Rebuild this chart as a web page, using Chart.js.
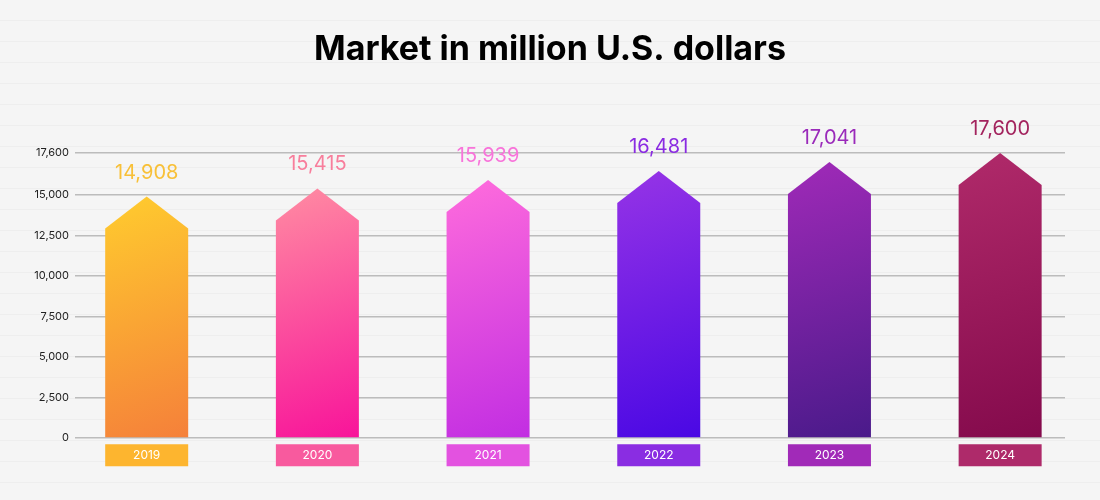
<!DOCTYPE html>
<html>
<head>
<meta charset="utf-8">
<script src="https://cdn.jsdelivr.net/npm/chart.js@4/dist/chart.umd.min.js"></script>
<style>
    html, body { margin: 0; padding: 0; }
    body {
        width: 1100px;
        height: 500px;
        background: repeating-linear-gradient(to bottom, #f5f5f5 0px, #f5f5f5 20px, #eeeeee 20px, #eeeeee 21px);
    }
    #wrap { width: 1100px; height: 500px; }
</style>
</head>
<body>
<div id="wrap"><canvas id="marketChart" width="1100" height="500"></canvas></div>
<script>
// Market chart - data
const years = ['2019', '2020', '2021', '2022', '2023', '2024'];
const marketValues = [14908, 15415, 15939, 16481, 17041, 17600];
const yTicks = [0, 2500, 5000, 7500, 10000, 12500, 15000, 17600];
const chartTitle = 'Market in million U.S. dollars';

// colours per year: gradient top, gradient bottom, value label, year box
const gradTop = ['#ffcc2e', '#ff8ca2', '#ff6cdc', '#9634e6', '#a02ab8', '#b02a6a'];
const gradBottom = ['#f5803a', '#f8149a', '#c22ee2', '#4a08e4', '#4a1a8a', '#840a4c'];
const labelColors = ['#f8c038', '#f87e9c', '#f874da', '#8a2be2', '#9a2aba', '#a3245e'];
const boxColors = ['#fdb52f', '#f85a9e', '#e352e0', '#8a2de2', '#a12ab8', '#ae2a6a'];

const FONT = 'Inter, "Noto Sans", sans-serif';
const HEAD = 32; // arrow head height in px

// Draw each bar as an arrow using the bar element geometry
const arrowBars = {
    id: 'arrowBars',
    afterDatasetsDraw(chart) {
        const ctx = chart.ctx;
        const meta = chart.getDatasetMeta(0);
        meta.data.forEach((bar, i) => {
            const half = bar.width / 2;
            const left = bar.x - half;
            const right = bar.x + half;
            const top = bar.y;
            const base = bar.base;

            const g = ctx.createLinearGradient(left, top, right, base);
            g.addColorStop(0, gradTop[i]);
            g.addColorStop(1, gradBottom[i]);

            ctx.save();
            ctx.beginPath();
            ctx.moveTo(bar.x, top);
            ctx.lineTo(right, top + HEAD);
            ctx.lineTo(right, base);
            ctx.lineTo(left, base);
            ctx.lineTo(left, top + HEAD);
            ctx.closePath();
            ctx.fillStyle = g;
            ctx.fill();

            // value label
            ctx.fillStyle = labelColors[i];
            ctx.font = '400 20px ' + FONT;
            ctx.textAlign = 'center';
            ctx.textBaseline = 'middle';
            ctx.fillText(marketValues[i].toLocaleString('en-US'), bar.x, top - 24);

            // year box
            ctx.fillStyle = boxColors[i];
            ctx.fillRect(left, base + 7, bar.width, 22);
            ctx.fillStyle = '#ffffff';
            ctx.font = '400 12px ' + FONT;
            ctx.fillText(years[i], bar.x, base + 18.5);
            ctx.restore();
        });
    },
    afterDraw(chart) {
        // title centred on the whole canvas
        const ctx = chart.ctx;
        ctx.save();
        ctx.fillStyle = '#000000';
        ctx.font = 'bold 34px ' + FONT;
        ctx.textAlign = 'center';
        ctx.textBaseline = 'middle';
        ctx.fillText(chartTitle, chart.width / 2, 50);
        ctx.restore();
    }
};

const chartData = years.map((y, i) => ({ x: i, y: marketValues[i] }));

new Chart(document.getElementById('marketChart'), {
    type: 'bar',
    data: {
        datasets: [{
            label: 'Market',
            data: chartData,
            backgroundColor: 'rgba(0,0,0,0)',
            borderWidth: 0,
            barThickness: 83
        }]
    },
    options: {
        responsive: false,
        animation: false,
        layout: {
            padding: { left: 0, right: 35, top: 153, bottom: 62 }
        },
        plugins: {
            legend: { display: false },
            tooltip: { enabled: false },
            title: { display: false }
        },
        scales: {
            x: {
                type: 'linear',
                offset: false,
                min: -0.42,
                max: 5.38,
                display: false
            },
            y: {
                min: 0,
                max: 17600,
                afterBuildTicks(scale) {
                    scale.ticks = yTicks.map(v => ({ value: v }));
                },
                afterFit(scale) {
                    scale.width = 75;
                },
                border: { display: false },
                grid: {
                    color: '#bcbcbc',
                    lineWidth: 1.5,
                    drawTicks: false
                },
                ticks: {
                    color: '#222222',
                    padding: 6,
                    font: { family: FONT, size: 11 },
                    callback: v => v.toLocaleString('en-US')
                }
            }
        }
    },
    plugins: [arrowBars]
});
</script>
</body>
</html>
